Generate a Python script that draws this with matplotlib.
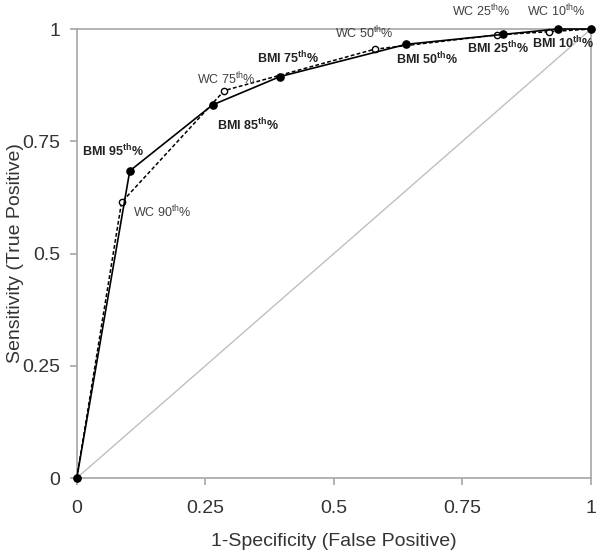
import matplotlib
matplotlib.use("Agg")
import matplotlib.pyplot as plt

plt.rcParams['font.family'] = ['Liberation Sans', 'DejaVu Sans']
plt.rcParams['mathtext.fontset'] = 'custom'
plt.rcParams['mathtext.rm'] = 'Liberation Sans'
plt.rcParams['mathtext.it'] = 'Liberation Sans'
plt.rcParams['mathtext.bf'] = 'Liberation Sans:bold'

# ROC points (1-specificity, sensitivity)
bmi_fp = [0, 0.103, 0.264, 0.395, 0.641, 0.829, 0.935, 1]
bmi_tp = [0, 0.684, 0.831, 0.894, 0.966, 0.988, 1.0, 1]
bmi_pct = [None, '95', '85', '75', '50', '25', '10', None]

wc_fp = [0, 0.087, 0.287, 0.579, 0.818, 0.918, 1]
wc_tp = [0, 0.614, 0.863, 0.955, 0.987, 0.994, 1]
wc_pct = [None, '90', '75', '50', '25', '10', None]

ticks = [0, 0.25, 0.5, 0.75, 1]
tick_labels = ['0', '0.25', '0.5', '0.75', '1']

# label offsets in pixels (dx, dy) from each point
bmi_off = [None, (-17, 20), (35, -20), (8, 19), (20, -15), (-5, -14), (5, -14), None]
wc_off = [None, (41, -10), (2, 12), (-10, 16), (-16, 24), (8, 21), None]

grey = '#a6a6a6'
txt = '#333333'

fig = plt.figure(figsize=(6, 5.55), dpi=100)
ax = fig.add_axes([0.128, 0.1387, 0.857, 0.809])

ax.plot([0, 1], [0, 1], color='#bfbfbf', lw=1, zorder=1)
ax.plot(wc_fp, wc_tp, color='black', lw=1.1, ls=(0, (2.5, 1.5)),
        marker='o', ms=4.5, mfc='white', mec='black', mew=1, zorder=3, clip_on=False)
ax.plot(bmi_fp, bmi_tp, color='black', lw=1.2,
        marker='o', ms=5.2, mfc='black', mec='black', zorder=4, clip_on=False)

for x, y, p, o in zip(bmi_fp, bmi_tp, bmi_pct, bmi_off):
    if p is None:
        continue
    ax.annotate('BMI ' + p + r'$^{\mathbf{th}}$%', (x, y), xytext=o,
                textcoords='offset pixels', ha='center', va='center',
                fontsize=9, fontweight='bold', color='#222222')

for x, y, p, o in zip(wc_fp, wc_tp, wc_pct, wc_off):
    if p is None:
        continue
    ax.annotate('WC ' + p + r'$^{\mathrm{th}}$%', (x, y), xytext=o,
                textcoords='offset pixels', ha='center', va='center',
                fontsize=9, color='#404040')

ax.set_xlim(0, 1)
ax.set_ylim(0, 1)
ax.set_xticks(ticks)
ax.set_xticklabels(tick_labels)
ax.set_yticks(ticks)
ax.set_yticklabels(tick_labels)
for s in ax.spines.values():
    s.set_color(grey)
    s.set_linewidth(1.2)
ax.tick_params(colors=grey, labelcolor=txt, labelsize=14, length=5, width=1.2,
               direction='out')
ax.tick_params(axis='x', pad=11)
ax.tick_params(axis='y', pad=7)
ax.set_xlabel('1-Specificity (False Positive)', fontsize=14, color=txt, labelpad=11)
ax.set_ylabel('Sensitivity (True Positive)', fontsize=14, color=txt, labelpad=-1)

fig.savefig('out.png', dpi=100)
